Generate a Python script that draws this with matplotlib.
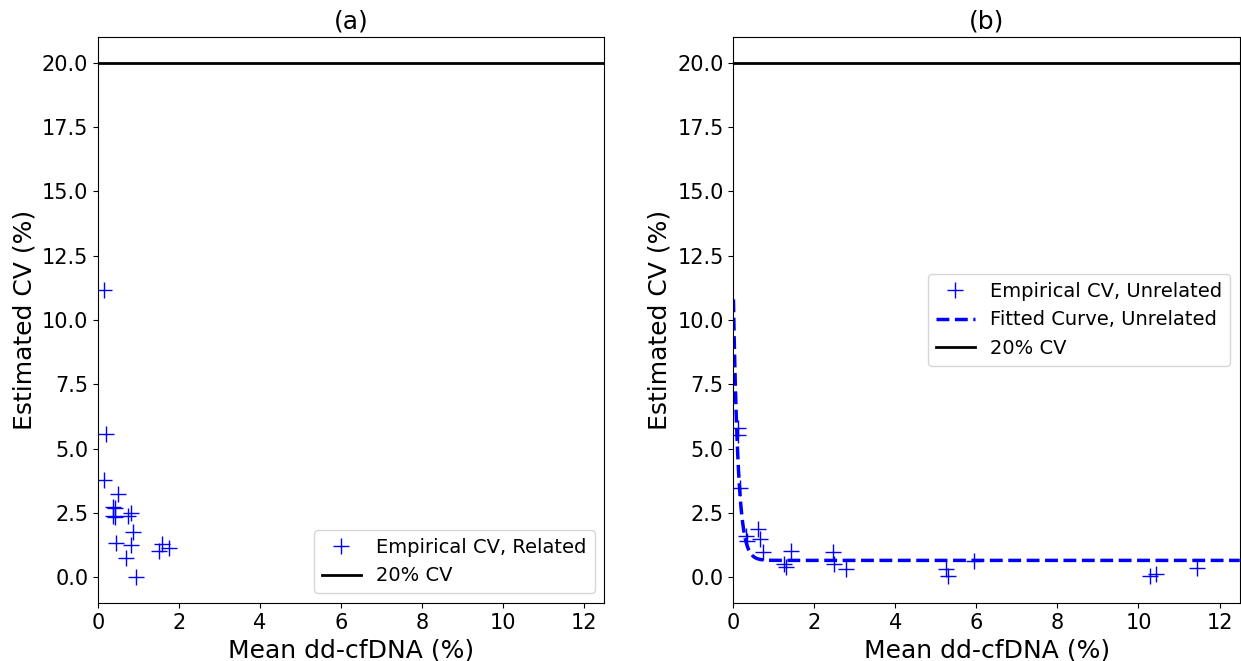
import matplotlib

matplotlib.use("Agg")
import matplotlib.pyplot as plt
import numpy as np

# Panel (a): related donors
related_mean = [0.15, 0.19, 0.15, 0.50, 0.36, 0.41, 0.37, 0.43, 0.74, 0.82,
                0.87, 0.44, 0.81, 0.68, 0.93, 1.58, 1.50, 1.76]
related_cv = [11.18, 5.55, 3.78, 3.25, 2.74, 2.70, 2.38, 2.32, 2.36, 2.51,
              1.74, 1.32, 1.24, 0.73, -0.01, 1.28, 1.00, 1.13]

# Panel (b): unrelated donors
unrelated_mean = [0.12, 0.12, 0.15, 0.31, 0.33, 0.60, 0.65, 0.73, 1.26, 1.30,
                  1.41, 2.46, 2.48, 2.77, 5.26, 5.30, 5.94, 10.28, 10.43, 11.45]
unrelated_cv = [5.81, 5.51, 3.48, 1.58, 1.39, 1.89, 1.50, 0.98, 0.50, 0.38,
                1.00, 0.96, 0.50, 0.31, 0.30, 0.05, 0.63, 0.03, 0.14, 0.37]

# exponential fit y = a * exp(-b x) + c
fit_a, fit_b, fit_c = 10.15, 8.5, 0.65
CV_LIMIT = 20.0

fig = plt.figure(figsize=(12.41, 6.61), dpi=100)
ax_a = fig.add_axes([0.079, 0.088, 0.408, 0.856])
ax_b = fig.add_axes([0.591, 0.088, 0.408, 0.856])

ax_a.plot(related_mean, related_cv, "+", color="blue", ms=11, mew=1.0,
          label="Empirical CV, Related")
ax_a.axhline(CV_LIMIT, color="black", lw=2, label="20% CV")
ax_a.set_title("(a)", fontsize=18)
ax_a.legend(loc="lower right", fontsize=14)

ax_b.plot(unrelated_mean, unrelated_cv, "+", color="blue", ms=11, mew=1.0,
          label="Empirical CV, Unrelated")
xs = np.linspace(0, 12.5, 600)
ax_b.plot(xs, fit_a * np.exp(-fit_b * xs) + fit_c, "--", color="blue", lw=2.5,
          label="Fitted Curve, Unrelated")
ax_b.axhline(CV_LIMIT, color="black", lw=2, label="20% CV")
ax_b.set_title("(b)", fontsize=18)
ax_b.legend(loc="center right", fontsize=14)

for ax in (ax_a, ax_b):
    ax.set_xlim(0, 12.5)
    ax.set_ylim(-1, 21)
    ax.set_xticks([0, 2, 4, 6, 8, 10, 12])
    ax.set_yticks(np.arange(0, 20.1, 2.5))
    ax.yaxis.set_major_formatter(matplotlib.ticker.FormatStrFormatter("%.1f"))
    ax.tick_params(labelsize=15)
    ax.set_xlabel("Mean dd-cfDNA (%)", fontsize=18)
    ax.set_ylabel("Estimated CV (%)", fontsize=18)

fig.savefig("out.png", dpi=100)
